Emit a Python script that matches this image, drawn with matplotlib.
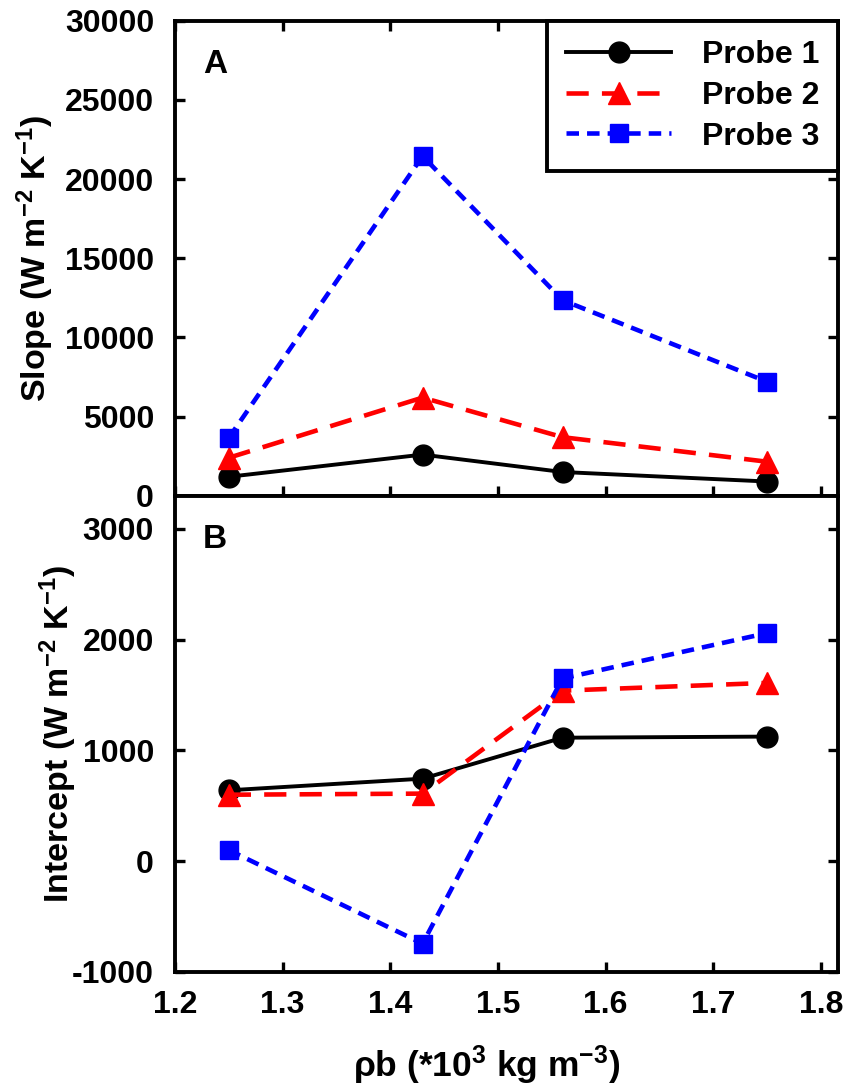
import matplotlib
matplotlib.use("Agg")
import matplotlib.pyplot as plt

plt.rcParams['font.family'] = 'Liberation Sans'
plt.rcParams['font.weight'] = 'bold'
plt.rcParams['axes.labelweight'] = 'bold'
plt.rcParams['axes.unicode_minus'] = False
plt.rcParams['mathtext.fontset'] = 'custom'
plt.rcParams['mathtext.rm'] = 'Liberation Sans'
plt.rcParams['mathtext.it'] = 'Liberation Sans'
plt.rcParams['mathtext.bf'] = 'Liberation Sans:bold'
plt.rcParams['lines.scale_dashes'] = False

FS = 23
LFS = 24.5

# bulk density (*10^3 kg m^-3)
density = [1.25, 1.43, 1.56, 1.75]

# panel A: slope
slope_p1 = [1200, 2600, 1500, 900]
slope_p2 = [2400, 6200, 3700, 2150]
slope_p3 = [3650, 21450, 12350, 7200]

# panel B: intercept
icpt_p1 = [640, 745, 1115, 1125]
icpt_p2 = [600, 610, 1540, 1610]
icpt_p3 = [100, -745, 1650, 2060]

labels = ['Probe 1', 'Probe 2', 'Probe 3']

styles = [
    dict(color='black', marker='o', markersize=15, linestyle='-', linewidth=2.8),
    dict(color='red', marker='^', markersize=15.5, linestyle=(0, (16, 9.5)), linewidth=3.3),
    dict(color='blue', marker='s', markersize=13.5, linestyle=(0, (9, 5.8)), linewidth=3.3),
]

fig = plt.figure(figsize=(8.45, 10.92), dpi=100)
ax1 = fig.add_axes([0.207, 0.546, 0.785, 0.435])
ax2 = fig.add_axes([0.207, 0.110, 0.785, 0.436])

for ys, lab, st in zip([slope_p1, slope_p2, slope_p3], labels, styles):
    ax1.plot(density, ys, label=lab, **st)
for ys, st in zip([icpt_p1, icpt_p2, icpt_p3], styles):
    ax2.plot(density, ys, **st)

for ax in (ax1, ax2):
    ax.set_xlim(1.2, 1.816)
    ax.set_xticks([1.2, 1.3, 1.4, 1.5, 1.6, 1.7, 1.8])
    for sp in ax.spines.values():
        sp.set_linewidth(2.8)
    ax.tick_params(direction='in', length=7.5, width=2.4, labelsize=FS, right=True)
    ax.tick_params(axis='y', pad=15)
    ax.tick_params(axis='x', pad=13)

ax1.set_ylim(0, 30000)
ax1.set_yticks(range(0, 30001, 5000))
ax1.tick_params(top=True, labelbottom=False)

ax2.set_ylim(-1000, 3300)
ax2.set_yticks([-1000, 0, 1000, 2000, 3000])
ax2.set_xticklabels(['1.2', '1.3', '1.4', '1.5', '1.6', '1.7', '1.8'])

ax1.set_ylabel(r'Slope (W m$^{\mathbf{-2}}$ K$^{\mathbf{-1}}$)', fontsize=LFS)
ax2.set_ylabel(r'Intercept (W m$^{\mathbf{-2}}$ K$^{\mathbf{-1}}$)', fontsize=LFS)
ax1.yaxis.set_label_coords(-0.18, 0.5)
ax2.yaxis.set_label_coords(-0.145, 0.5)
ax2.set_xlabel(r'$\rho$b (*10$^{\mathbf{3}}$ kg m$^{\mathbf{-3}}$)', fontsize=LFS + 1,
               labelpad=17)
ax2.xaxis.label.set_x(0.47)

ax1.text(0.042, 0.89, 'A', transform=ax1.transAxes, fontsize=FS + 1, fontweight='bold')
ax2.text(0.042, 0.89, 'B', transform=ax2.transAxes, fontsize=FS + 1, fontweight='bold')

leg = ax1.legend(loc='upper right', borderaxespad=0, fontsize=FS, handlelength=3.3,
                 handletextpad=0.95, labelspacing=0.34, borderpad=0.6,
                 fancybox=False, edgecolor='black', framealpha=1)
leg.get_frame().set_linewidth(2.8)

fig.savefig('out.png', dpi=100)
